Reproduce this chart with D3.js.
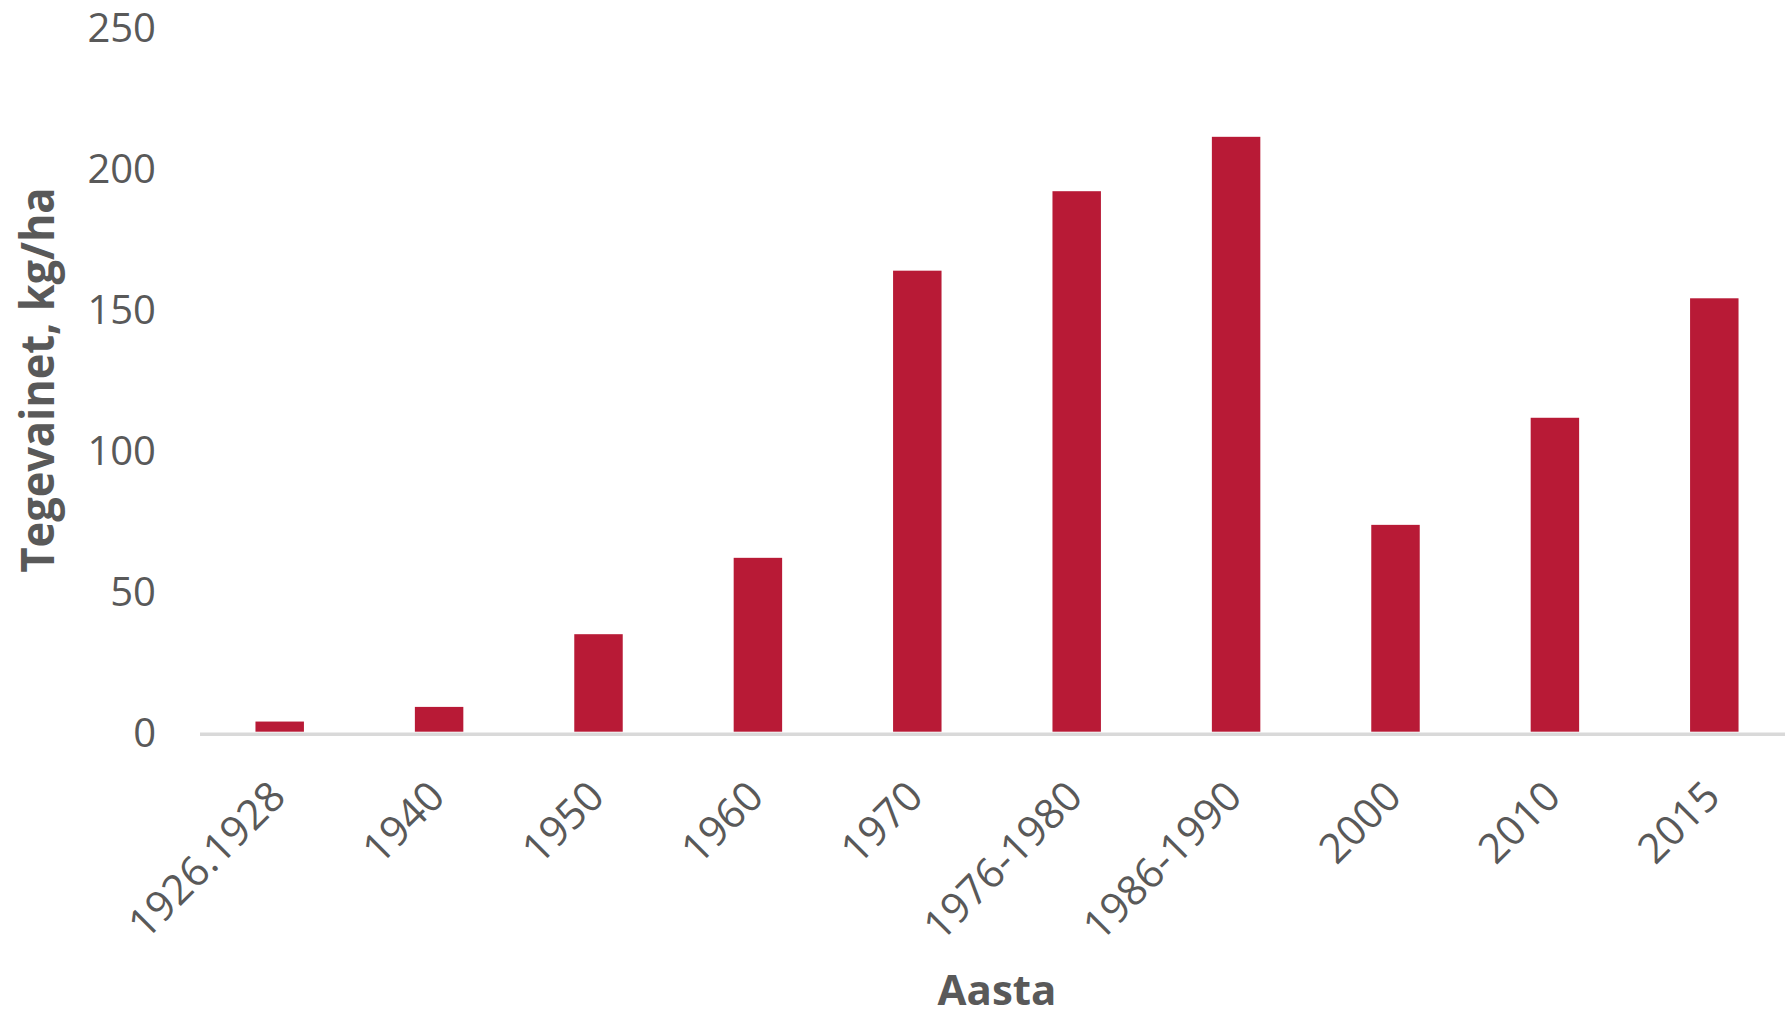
<!DOCTYPE html>
<html>
<head>
<meta charset="utf-8">
<script src="https://cdn.jsdelivr.net/npm/d3@7"></script>
<style>
  html, body { margin: 0; padding: 0; background: #ffffff; }
  svg { display: block; }
</style>
</head>
<body>
<script>
const categories = ["1926.1928", "1940", "1950", "1960", "1970", "1976-1980", "1986-1990", "2000", "2010", "2015"];
const values = [3.6, 8.8, 34.6, 61.7, 163.6, 191.8, 211.1, 73.4, 111.4, 153.8];
const yTicks = [0, 50, 100, 150, 200, 250];
const xTitle = "Aasta";
const yTitle = "Tegevainet, kg/ha";

const W = 1785, H = 1017;
const svg = d3.select("body").append("svg").attr("width", W).attr("height", H);
svg.append("rect").attr("width", W).attr("height", H).attr("fill", "#ffffff");

const x = d3.scaleBand().domain(categories).range([200, 1794]).paddingInner(0.696).paddingOuter(0.348);
const y = d3.scaleLinear().domain([0, 250]).range([731.7, 27.2]);

const textColor = "#595959";

// axis baseline
svg.append("line")
  .attr("x1", 200).attr("x2", W)
  .attr("y1", y(0) + 2.6).attr("y2", y(0) + 2.6)
  .attr("stroke", "#d9d9d9").attr("stroke-width", 3.5);

// bars
svg.append("g").selectAll("rect").data(categories).join("rect")
  .attr("x", d => x(d))
  .attr("width", x.bandwidth())
  .attr("y", (d, i) => y(values[i]))
  .attr("height", (d, i) => y(0) - y(values[i]))
  .attr("fill", "#b81a36");

// y axis (labels only)
const yAxis = d3.axisLeft(y).tickValues(yTicks).tickSize(0).tickPadding(0);
const gy = svg.append("g").attr("transform", "translate(156,0)").call(yAxis);
gy.select(".domain").remove();
gy.selectAll("text")
  .attr("font-family", "'Open Sans', sans-serif")
  .attr("font-size", 40)
  .attr("fill", textColor)
  .attr("dy", "0.36em");

// x axis (labels only, rotated)
const xAxis = d3.axisBottom(x).tickSize(0).tickPadding(0);
const gx = svg.append("g").call(xAxis);
gx.select(".domain").remove();
gx.selectAll(".tick").attr("transform", d => `translate(${x(d) + x.bandwidth() / 2 + 8},799)`);
gx.selectAll("text")
  .attr("font-family", "'Open Sans', sans-serif")
  .attr("font-size", 41.5)
  .attr("fill", textColor)
  .attr("text-anchor", "end")
  .attr("x", 0).attr("y", 0).attr("dy", 0)
  .attr("transform", "rotate(-45)");

// axis titles
svg.append("text")
  .attr("x", 997).attr("y", 1005)
  .attr("text-anchor", "middle")
  .attr("font-family", "'Open Sans', sans-serif")
  .attr("font-weight", "bold")
  .attr("font-size", 42)
  .attr("fill", textColor)
  .text(xTitle);

svg.append("text")
  .attr("transform", "translate(54,380) rotate(-90)")
  .attr("text-anchor", "middle")
  .attr("font-family", "'Open Sans', sans-serif")
  .attr("font-weight", "bold")
  .attr("font-size", 46)
  .attr("textLength", 385)
  .attr("lengthAdjust", "spacingAndGlyphs")
  .attr("fill", textColor)
  .text(yTitle);
</script>
</body>
</html>
